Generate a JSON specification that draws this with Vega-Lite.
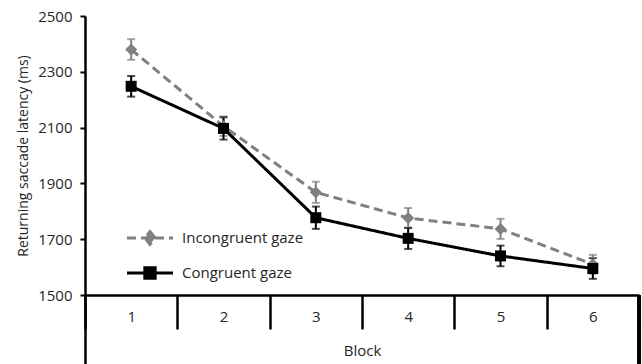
{
  "$schema": "https://vega.github.io/schema/vega-lite/v6.json",
  "autosize": {"type": "none"},
  "padding": {"left": 85, "top": 16, "right": 3, "bottom": 0},
  "width": 554,
  "height": 348,
  "background": "white",
  "config": {
    "view": {"stroke": null},
    "font": "Open Sans",
    "axis": {"grid": false, "domainColor": "black", "tickColor": "black", "labelColor": "#262626", "titleColor": "#262626", "labelFont": "Open Sans", "titleFont": "Open Sans", "titleFontWeight": "normal"},
    "legend": {"labelFont": "Open Sans"}
  },
  "data": {
    "values": [
      {"block": "1", "cond": "Incongruent gaze", "latency": 2380, "lo": 2343, "hi": 2417},
      {"block": "2", "cond": "Incongruent gaze", "latency": 2105, "lo": 2070, "hi": 2140},
      {"block": "3", "cond": "Incongruent gaze", "latency": 1868, "lo": 1830, "hi": 1906},
      {"block": "4", "cond": "Incongruent gaze", "latency": 1776, "lo": 1740, "hi": 1812},
      {"block": "5", "cond": "Incongruent gaze", "latency": 1737, "lo": 1701, "hi": 1773},
      {"block": "6", "cond": "Incongruent gaze", "latency": 1610, "lo": 1576, "hi": 1644},
      {"block": "1", "cond": "Congruent gaze", "latency": 2248, "lo": 2211, "hi": 2285},
      {"block": "2", "cond": "Congruent gaze", "latency": 2097, "lo": 2057, "hi": 2137},
      {"block": "3", "cond": "Congruent gaze", "latency": 1777, "lo": 1737, "hi": 1817},
      {"block": "4", "cond": "Congruent gaze", "latency": 1703, "lo": 1665, "hi": 1741},
      {"block": "5", "cond": "Congruent gaze", "latency": 1640, "lo": 1603, "hi": 1677},
      {"block": "6", "cond": "Congruent gaze", "latency": 1595, "lo": 1558, "hi": 1632}
    ]
  },
  "encoding": {
    "x": {
      "field": "block", "type": "ordinal",
      "scale": {"type": "band", "paddingInner": 0, "paddingOuter": 0},
      "axis": {
        "title": "Block", "labelAngle": 0, "offset": -69,
        "tickBand": "extent", "tickSize": 34, "tickWidth": 2.5, "domainWidth": 2.5,
        "labelPadding": -20, "labelFontSize": 15, "titleFontSize": 15, "titlePadding": 13
      }
    }
  },
  "layer": [
    {
      "mark": {"type": "rule", "color": "black", "strokeWidth": 2.5},
      "encoding": {
        "x": {"datum": "6", "type": "ordinal", "bandPosition": 1},
        "y": {"datum": 1500},
        "y2": {"datum": 1252.7}
      }
    },
    {
      "mark": {"type": "errorbar", "ticks": {"size": 8, "thickness": 2}, "thickness": 2},
      "encoding": {
        "y": {"field": "lo", "type": "quantitative",
          "scale": {"domain": [1252.7, 2500], "nice": false, "zero": false},
          "axis": {"title": "Returning saccade latency (ms)", "values": [1500, 1700, 1900, 2100, 2300, 2500], "format": "d",
            "tickSize": 5, "tickWidth": 2, "domainWidth": 2.5, "labelPadding": 8, "labelFontSize": 15,
            "titleFontSize": 14, "titlePadding": 7, "titleY": 139.5}},
        "y2": {"field": "hi"},
        "color": {"field": "cond", "type": "nominal",
          "scale": {"domain": ["Incongruent gaze", "Congruent gaze"], "range": ["#808080", "#000000"]}}
      }
    },
    {
      "mark": {"type": "line", "strokeWidth": 3},
      "encoding": {
        "y": {"field": "latency", "type": "quantitative"},
        "color": {"field": "cond", "type": "nominal",
          "legend": {
            "title": null, "orient": "none", "legendX": 52, "legendY": 209,
            "labelFontSize": 15, "labelColor": "#262626", "labelOffset": 19, "rowPadding": 9,
            "symbolSize": 529, "symbolStrokeWidth": 3, "padding": 0,
            "encode": {
              "symbols": {
                "update": {
                  "shape": {"signal": "datum.value === 'Incongruent gaze' ? 'M-2,0L2,0M0,-0.55L0.45,0L0,0.55L-0.45,0Z' : 'M-2,0L2,0M-0.45,-0.45L0.45,-0.45L0.45,0.45L-0.45,0.45Z'"},
                  "fill": {"signal": "datum.value === 'Incongruent gaze' ? '#808080' : '#000000'"},
                  "fillOpacity": {"value": 1}
                }
              }
            }
          }},
        "strokeDash": {"field": "cond", "type": "nominal",
          "scale": {"domain": ["Incongruent gaze", "Congruent gaze"], "range": [[9, 5], [1, 0]]}}
      }
    },
    {
      "transform": [{"filter": "datum.cond === 'Incongruent gaze'"}],
      "mark": {"type": "point", "filled": true, "opacity": 1, "shape": "diamond", "size": 144},
      "encoding": {
        "y": {"field": "latency", "type": "quantitative"},
        "color": {"field": "cond", "type": "nominal"}
      }
    },
    {
      "transform": [{"filter": "datum.cond === 'Congruent gaze'"}],
      "mark": {"type": "point", "filled": true, "opacity": 1, "shape": "square", "size": 121},
      "encoding": {
        "y": {"field": "latency", "type": "quantitative"},
        "color": {"field": "cond", "type": "nominal"}
      }
    }
  ]
}
